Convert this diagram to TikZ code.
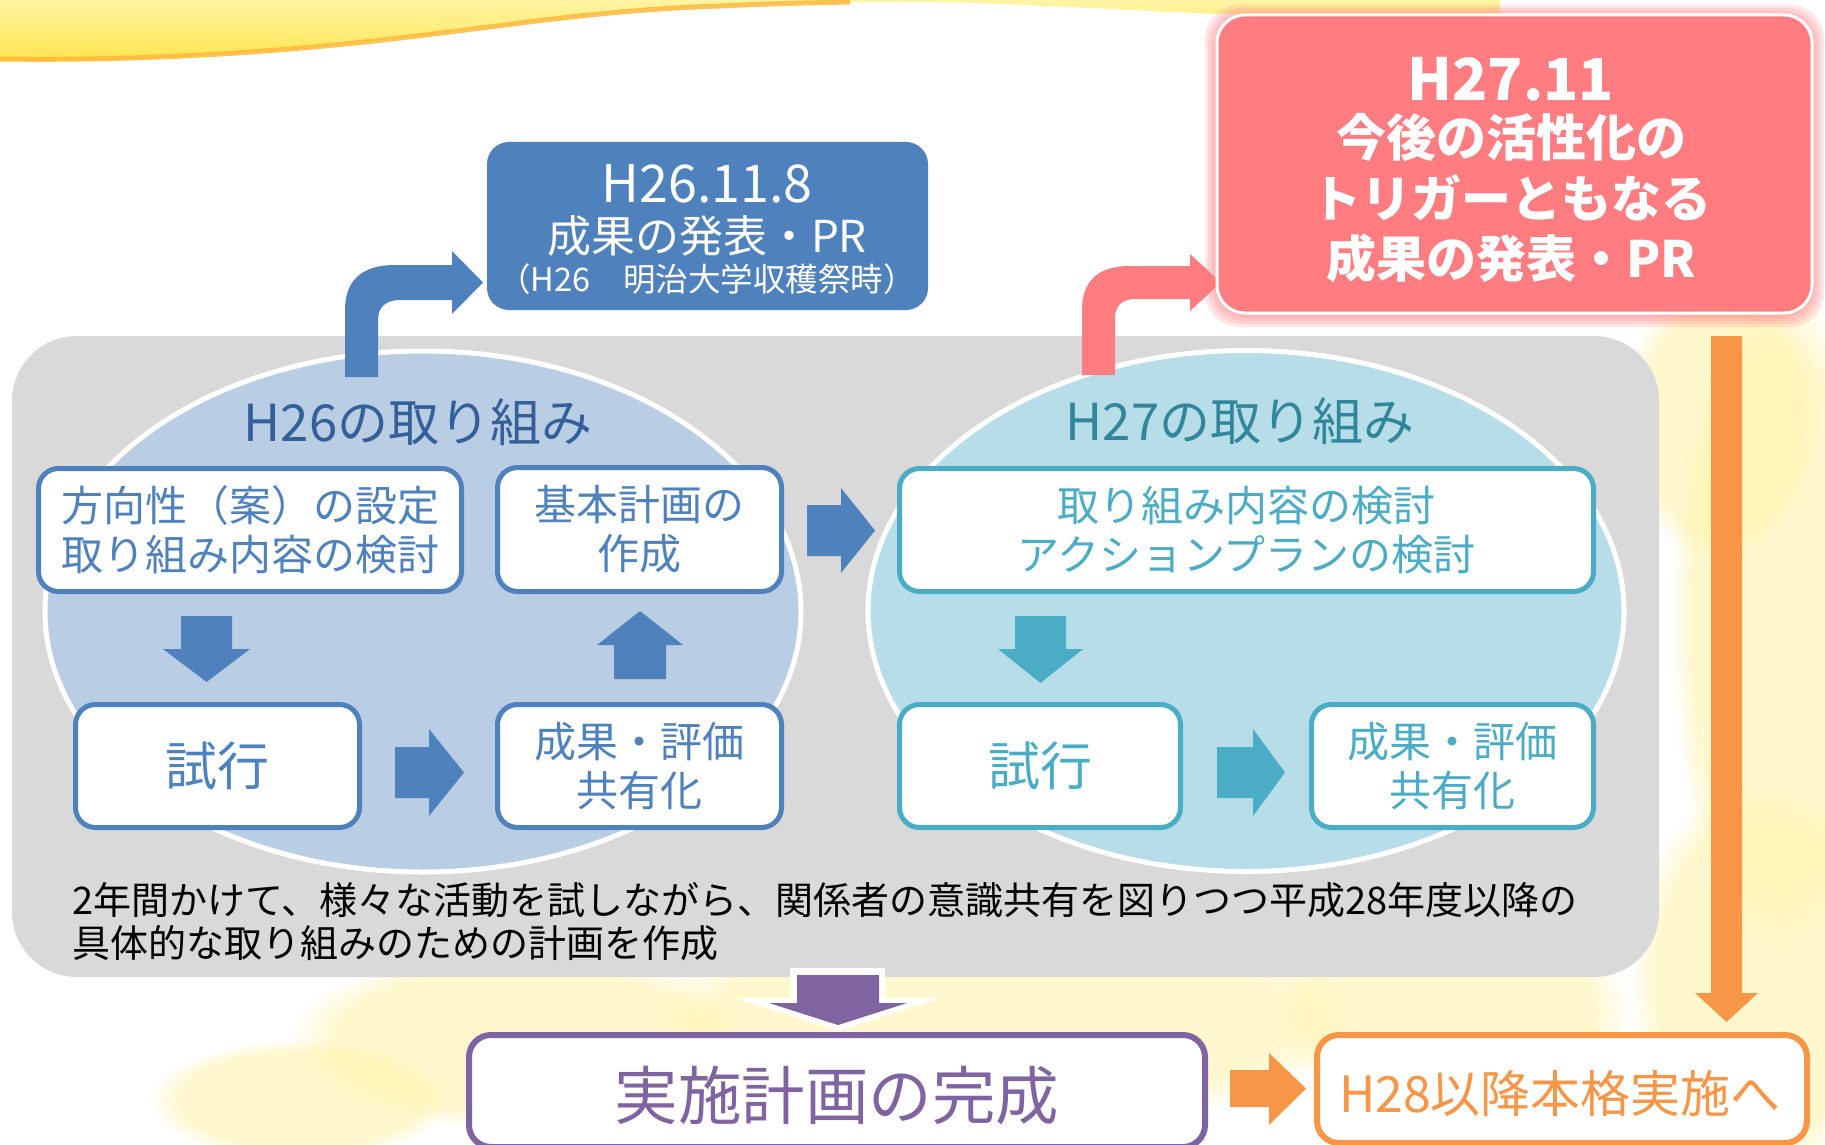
\documentclass[tikz,border=0pt]{standalone}
\usepackage{fontspec}
\setmainfont{Noto Sans CJK JP}
\usetikzlibrary{shapes.geometric,fadings}
\definecolor{blueA}{HTML}{4F81BD}
\definecolor{ellA}{HTML}{B9CDE5}
\definecolor{titleA}{HTML}{34609A}
\definecolor{tealB}{HTML}{4BACC6}
\definecolor{ellB}{HTML}{B7DEE8}
\definecolor{titleB}{HTML}{31869B}
\definecolor{grayC}{HTML}{D9D9D9}
\definecolor{pinkD}{HTML}{FF7C80}
\definecolor{orangeE}{HTML}{F79646}
\definecolor{purpleF}{HTML}{8064A2}
\definecolor{waveTop}{HTML}{FFF4A3}
\definecolor{waveBot}{HTML}{FFE54F}
\definecolor{waveEdge}{HTML}{FFB534}
\definecolor{paleY}{HTML}{FFF3A8}
\newcommand\fsz[2]{\fontsize{#1}{#2}\selectfont}
\begin{document}
\begin{tikzpicture}[x=1pt,y=-1pt,
  box26/.style={draw=blueA,line width=5pt,fill=white,rounded corners=20pt,text=blueA,align=center,inner sep=0pt,font=\fsz{42}{49}},
  box27/.style={box26,draw=tealB,text=tealB},
  ovalshape/.style={ellipse,draw=white,line width=5pt,minimum width=756pt,minimum height=521pt,inner sep=0pt},
  plain/.style={inner sep=0pt},
  glow/.style={fill=pinkD,opacity=0.18,rounded corners=34pt,inner sep=0pt}
]
\useasboundingbox (0,0) rectangle (1825,1145);
\clip (0,0) rectangle (1825,1145);
\fill[white] (0,0) rectangle (1825,1145);
% faint photo background
\foreach \cx/\cy/\rx/\ry in {1780/620/110/340, 1760/980/130/200, 1000/1020/360/110, 520/1040/230/90, 1450/1010/180/100, 1720/420/100/140, 300/1100/150/60}
  \fill[paleY,opacity=0.55,path fading=circle with fuzzy edge 20 percent] (\cx,\cy) ellipse [x radius=\rx, y radius=\ry];
% top wave
\shade[top color=waveTop,bottom color=waveBot] (0,0) -- (1500,0) -- (1500,14) -- (1216,14) .. controls (1100,9) and (1000,2) .. (900,2) .. controls (830,2) and (780,4) .. (720,6) .. controls (600,10) and (520,24) .. (400,38) .. controls (280,52) and (150,62) .. (0,61) -- cycle;
\draw[waveEdge,line width=5pt,opacity=0.8] (850,2) .. controls (800,3) and (760,4) .. (720,6) .. controls (600,10) and (520,24) .. (400,38) .. controls (280,52) and (150,61) .. (0,59);
% gray panel
\node[fill=grayC,rounded corners=65pt,minimum width=1647pt,minimum height=641pt,inner sep=0pt] (panel) at (835.5,656.5) {};
% ovals
\node[ovalshape,fill=ellA] (ell26) at (423,611.5) {};
\node[ovalshape,fill=ellB] (ell27) at (1246,611) {};
% bent arrows
\fill[blueA] (345,377) -- (345,310) .. controls (345,282) and (360,265) .. (395,265) -- (452,265) -- (452,251) -- (483,282.5) -- (452,314) -- (452,300) -- (400,300) .. controls (386,300) and (378,307) .. (378,320) -- (378,377) -- cycle;
\fill[pinkD] (1082,375) -- (1082,310) .. controls (1082,282) and (1097,266) .. (1130,266) -- (1190,266) -- (1190,254) -- (1221,282.5) -- (1190,311) -- (1190,299) -- (1135,299) .. controls (1122,299) and (1115,306) .. (1115,318) -- (1115,375) -- cycle;
% titles
\node[plain,text=titleA,font=\fsz{51}{56}] (t26) at (418,422) {H26の取り組み};
\node[plain,text=titleB,font=\fsz{51}{56}] (t27) at (1240,421) {H27の取り組み};
% H26 boxes
\node[box26,minimum width=423pt,minimum height=123pt] (a26) at (250,530) {方向性（案）の設定\\取り組み内容の検討};
\node[box26,minimum width=284pt,minimum height=124pt] (b26) at (639.5,529.5) {基本計画の\\作成};
\node[box26,minimum width=284pt,minimum height=123pt,font=\fsz{52}{58}] (c26) at (217.5,766) {試行};
\node[box26,minimum width=284pt,minimum height=123pt] (d26) at (639.5,766) {成果・評価\\共有化};
% H27 boxes
\node[box27,minimum width=694pt,minimum height=123pt] (a27) at (1246.5,530) {取り組み内容の検討\\アクションプランの検討};
\node[box27,minimum width=281pt,minimum height=123pt,font=\fsz{52}{58}] (c27) at (1040,766) {試行};
\node[box27,minimum width=282pt,minimum height=123pt] (d27) at (1452.5,766) {成果・評価\\共有化};
% block arrows H26
\fill[blueA] (181,616) -- (232,616) -- (232,649) -- (250,649) -- (206.5,682) -- (163,649) -- (181,649) -- cycle;
\fill[blueA] (614,679) -- (666,679) -- (666,645) -- (683,645) -- (640,611) -- (597,645) -- (614,645) -- cycle;
\fill[blueA] (395,747) -- (429,747) -- (429,729) -- (464,772.5) -- (429,816) -- (429,798) -- (395,798) -- cycle;
\fill[blueA] (807,505) -- (841,505) -- (841,488) -- (875,530.5) -- (841,573) -- (841,556) -- (807,556) -- cycle;
% block arrows H27
\fill[tealB] (1015,616) -- (1066,616) -- (1066,649) -- (1083,649) -- (1040.5,683) -- (998,649) -- (1015,649) -- cycle;
\fill[tealB] (1217,747) -- (1253,747) -- (1253,729) -- (1285,772.5) -- (1253,816) -- (1253,798) -- (1217,798) -- cycle;
% note
\node[plain,anchor=west,align=left,font=\fsz{38}{43}] (note) at (72,921.5) {2年間かけて、様々な活動を試しながら、関係者の意識共有を図りつつ平成28年度以降の\\具体的な取り組みのための計画を作成};
% orange long arrow
\fill[orangeE] (1711,336) -- (1742,336) -- (1742,993) -- (1758,993) -- (1726.5,1022) -- (1695,993) -- (1711,993) -- cycle;
% purple arrow
\fill[white] (790,968) -- (885,968) -- (885,998) -- (940,998) -- (838,1031) -- (736,998) -- (790,998) -- cycle;
\fill[purpleF] (797,975) -- (879,975) -- (879,1003) -- (907,1003) -- (838,1025) -- (769,1003) -- (797,1003) -- cycle;
% bottom boxes
\node[draw=purpleF,line width=6pt,fill=white,rounded corners=22pt,minimum width=736pt,minimum height=112pt,inner sep=0pt] (plan) at (837,1091) {};
\node[plain,text=purpleF,font=\fsz{63.5}{68}] (plantxt) at (837,1096) {実施計画の完成};
\fill[orangeE] (1230,1070) -- (1269,1070) -- (1269,1053) -- (1306,1088.5) -- (1269,1125) -- (1269,1107) -- (1230,1107) -- cycle;
\node[draw=orangeE,line width=6pt,fill=white,rounded corners=22pt,minimum width=490pt,minimum height=108pt,inner sep=0pt] (impl) at (1562,1089) {};
\node[plain,text=orangeE,font=\fsz{50}{56}] (impltxt) at (1560,1094) {H28以降本格実施へ};
% blue PR box
\node[fill=blueA,rounded corners=22pt,minimum width=441pt,minimum height=168pt,inner sep=0pt] (pr26) at (707.5,226) {};
\node[plain,text=white,font=\fsz{52}{58}] (pr26a) at (707,184) {H26.11.8};
\node[plain,text=white,font=\fsz{44}{50}] (pr26b) at (707,236) {成果の発表・PR};
\node[plain,text=white,font=\fsz{32.5}{36}] (pr26c) at (707,279) {（H26　明治大学収穫祭時）};
% pink PR box
\foreach \d in {12,9,6,3}
  \node[glow,minimum width=595pt+2*\d pt,minimum height=298pt+2*\d pt] at (1514.5,166) {};
\node[fill=pinkD,draw=white,line width=3pt,rounded corners=28pt,minimum width=595pt,minimum height=298pt,inner sep=0pt] (pr27) at (1514.5,164) {};
\node[plain,text=white,font=\bfseries\fsz{58}{64}] (pr27a) at (1511,79) {H27.11};
\node[plain,text=white,font=\bfseries\fsz{50}{56}] (pr27b) at (1511,137) {今後の活性化の};
\node[plain,text=white,font=\bfseries\fsz{50}{56}] (pr27c) at (1511,198) {トリガーともなる};
\node[plain,text=white,font=\bfseries\fsz{50}{56}] (pr27d) at (1511,258) {成果の発表・PR};
\end{tikzpicture}
\end{document}
